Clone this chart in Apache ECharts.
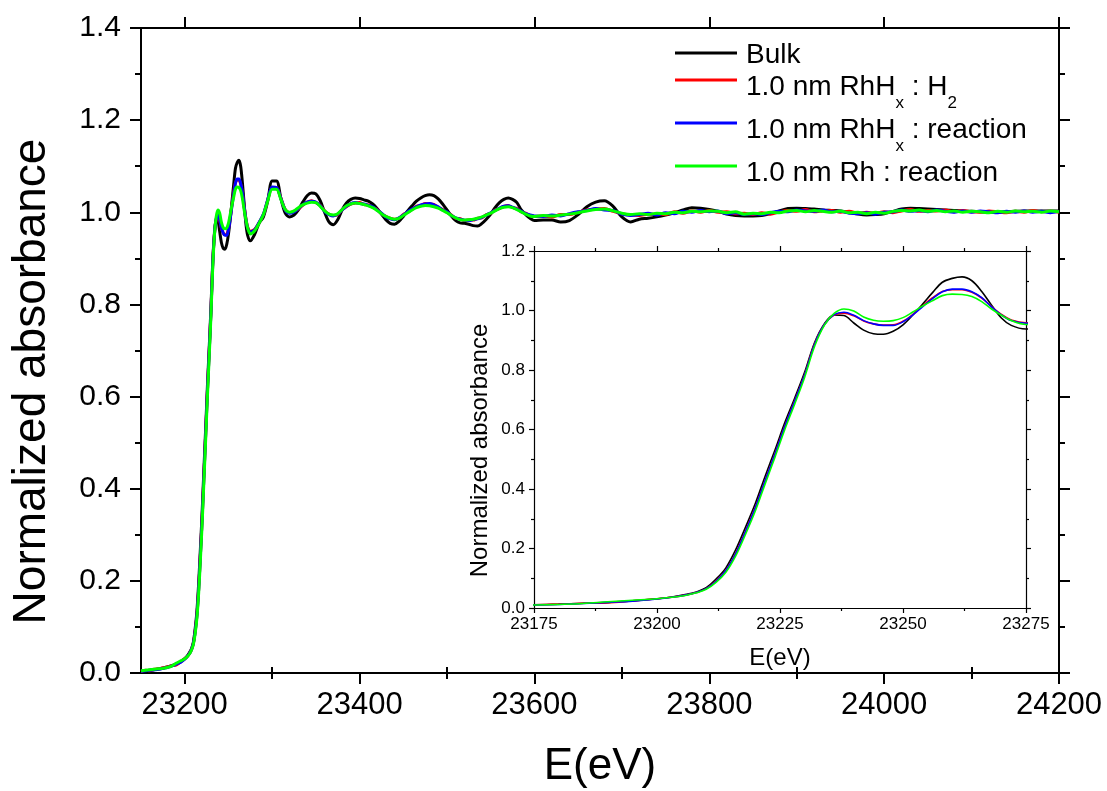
<!DOCTYPE html>
<html>
<head>
<meta charset="utf-8">
<script src="https://cdn.jsdelivr.net/npm/echarts@6/dist/echarts.min.js"></script>
<style>
  html, body { margin: 0; padding: 0; background: #ffffff; }
  #chart { width: 1107px; height: 791px; }
</style>
</head>
<body>
<div id="chart"></div>
<script>
// Photon energy grid (eV), shared by all spectra
const energy = [
  23150,23155,23160,23165,23170,23175,23180,23185,23190,23195,
  23200,23203,23206,23208,23210,
  23212,23214,23216,23218,23220,23222,23224,23226,23228,23230,
  23232,23234,23236,23238,23240,23242,23244,23246,23248,23250,
  23252,23254,23256,23258,23260,23262,23264,23266,23268,23270,
  23272,23275,
  23280,23285,23290,23295,23300,23305,23310,23315,23320,23325,
  23330,23335,23340,23345,23350,23355,23360,23365,23370,23375,
  23380,23385,23390,23395,23400,23405,23410,23415,23420,23425,
  23430,23435,23440,23445,23450,23455,23460,23465,23470,23475,
  23480,23485,23490,23495,23500,23505,23510,23515,23520,23525,
  23530,23535,23540,23545,23550,23555,23560,23565,23570,23575,
  23580,23585,23590,23595,23600,
  23610,23620,23630,23640,23650,23660,23670,23680,23690,23700,
  23710,23720,23730,23740,23750,23760,23770,23780,23790,23800,
  23810,23820,23830,23840,23850,23860,23870,23880,23890,23900,
  23910,23920,23930,23940,23950,23960,23970,23980,23990,24000,
  24010,24020,24030,24040,24050,24060,24070,24080,24090,24100,
  24110,24120,24130,24140,24150,24160,24170,24180,24190,24200
];

// Normalized absorbance, Rh bulk reference
const bulk = [
  .004,.005,.006,.007,.009,.011,.013,.016,.019,.024,
  .031,.037,.046,.054,.068,
  .097,.135,.196,.272,.352,.444,.532,.624,.706,.792,
  .891,.955,.985,.983,.958,.934,.922,.920,.930,.952,
  .985,1.022,1.060,1.095,1.108,1.113,1.100,1.064,1.018,.975,
  .950,.938,
  .952,.976,.990,1.025,1.068,1.068,1.030,.998,.990,.994,
  1.005,1.022,1.036,1.042,1.040,1.025,1.000,.979,.973,.984,
  1.005,1.020,1.028,1.031,1.030,1.027,1.024,1.018,1.008,.996,
  .984,.976,.974,.980,.991,1.003,1.014,1.024,1.031,1.036,
  1.038,1.036,1.029,1.018,1.005,.992,.982,.977,.976,.974,
  .971,.970,.976,.985,.996,1.010,1.021,1.028,1.031,1.028,
  1.021,1.005,.995,.987,.982,
  .983,.983,.979,.982,.995,1.012,1.022,1.025,1.013,.990,
  .979,.985,.987,.990,.994,.999,1.005,1.010,1.009,1.006,
  1.002,.996,.993,.992,.992,.993,.997,1.003,1.008,1.009,
  1.008,1.007,1.005,1.004,1.003,1.000,.996,.994,.995,.997,
  1.002,1.007,1.009,1.008,1.007,1.006,1.005,1.004,1.003,1.002,
  1.001,1.000,1.000,1.001,1.002,1.003,1.003,1.003,1.003,1.003
];

// 1.0 nm RhHx under H2
const rhHxH2 = [
  .003,.006,.005,.008,.009,.011,.013,.016,.017,.024,
  .031,.036,.044,.052,.065,
  .091,.127,.184,.259,.339,.430,.520,.613,.697,.784,
  .886,.952,.985,.991,.982,.965,.955,.951,.952,.964,
  .987,1.016,1.043,1.064,1.070,1.070,1.061,1.042,1.013,.987,
  .968,.959,
  .963,.977,.995,1.027,1.054,1.053,1.031,1.006,.999,1.002,
  1.007,1.015,1.022,1.025,1.021,1.015,1.003,.996,.993,.995,
  1.006,1.012,1.018,1.020,1.021,1.017,1.016,1.011,1.006,.997,
  .991,.987,.985,.987,.995,1.000,1.006,1.013,1.015,1.019,
  1.018,1.017,1.011,1.006,1.000,.994,.987,.986,.982,.984,
  .983,.987,.988,.995,.998,1.005,1.008,1.013,1.015,1.010,
  1.008,1.001,.998,.993,.991,
  .992,.990,.995,.995,1.000,1.005,1.007,1.008,1.002,.997,
  .994,.993,.996,.996,.995,1.001,.998,1.003,1.000,1.004,
  1.000,1.001,.997,.998,.995,.999,.996,1.001,1.004,1.002,
  1.006,1.001,1.003,1.004,1.000,1.002,.998,1.000,.998,1.001,
  .999,1.003,1.006,1.002,1.004,1.003,1.005,1.001,1.004,1.001,
  1.000,1.003,1.001,.999,1.002,1.000,1.004,1.001,1.002,1.000
];

// 1.0 nm RhHx under reaction conditions
const rhHxReaction = [
  .004,.005,.006,.007,.008,.010,.012,.015,.019,.023,
  .030,.036,.044,.052,.065,
  .090,.126,.183,.258,.338,.429,.519,.612,.696,.783,
  .885,.952,.986,.994,.984,.966,.955,.950,.950,.962,
  .985,1.013,1.040,1.063,1.072,1.072,1.063,1.043,1.012,.985,
  .966,.957,
  .962,.978,.996,1.028,1.055,1.054,1.030,1.005,.998,1.001,
  1.008,1.016,1.022,1.024,1.022,1.014,1.002,.995,.992,.996,
  1.005,1.013,1.019,1.021,1.019,1.018,1.015,1.012,1.005,.998,
  .990,.986,.984,.988,.994,1.001,1.007,1.012,1.016,1.018,
  1.019,1.016,1.012,1.005,1.001,.993,.988,.985,.983,.982,
  .984,.986,.989,.994,.999,1.004,1.009,1.013,1.014,1.011,
  1.007,1.002,.997,.994,.992,
  .991,.994,.992,.997,1.001,1.004,1.008,1.005,1.004,.996,
  .993,.995,.998,.994,.999,.997,1.002,1.000,1.004,1.001,
  1.003,.997,.999,.995,.997,.995,.999,1.002,1.001,1.005,
  1.003,1.002,1.005,1.001,1.002,.998,.997,.999,.996,1.000,
  1.001,1.005,1.002,1.004,1.001,1.005,1.002,1.000,1.003,1.000,
  1.003,1.001,.999,1.002,1.000,1.003,1.000,1.002,.999,1.002
];

// 1.0 nm Rh under reaction conditions
const rhReaction = [
  .005,.006,.007,.008,.009,.010,.012,.015,.021,.026,
  .031,.036,.043,.051,.063,
  .086,.120,.175,.248,.327,.418,.508,.601,.686,.775,
  .878,.950,.990,1.005,.998,.978,.967,.964,.966,.976,
  .995,1.015,1.033,1.050,1.055,1.054,1.047,1.030,1.005,.984,
  .966,.953,
  .960,.976,.995,1.025,1.050,1.050,1.028,1.006,1.000,1.003,
  1.010,1.016,1.020,1.022,1.021,1.013,1.003,.996,.994,.997,
  1.006,1.014,1.018,1.020,1.019,1.017,1.014,1.010,1.004,.997,
  .991,.987,.985,.987,.993,.999,1.005,1.010,1.013,1.015,
  1.014,1.012,1.009,1.004,.999,.993,.988,.984,.983,.984,
  .985,.987,.990,.994,.998,1.003,1.008,1.011,1.012,1.010,
  1.006,1.001,.996,.992,.991,
  .993,.992,.994,.996,.999,1.003,1.006,1.007,1.003,.998,
  .995,.997,.995,.998,.997,1.000,.999,1.002,1.001,1.003,
  1.002,.999,1.001,.996,.998,.997,1.000,.999,1.003,1.004,
  1.001,1.004,1.002,1.000,1.003,.999,1.000,.997,1.000,.998,
  1.002,1.004,1.003,1.005,1.002,1.004,1.001,1.003,1.000,1.002,
  1.001,.999,1.002,1.000,1.003,1.001,1.002,1.000,1.003,1.001
];

const seriesNames = ['Bulk', '1.0 nm RhHx : H2', '1.0 nm RhHx : reaction', '1.0 nm Rh : reaction'];
const seriesValues = [bulk, rhHxH2, rhHxReaction, rhReaction];
const seriesColors = ['#000000', '#ff0000', '#0000ff', '#00ff00'];

// Legend text with subscripts (rich-text markup)
const legendLabels = {
  'Bulk': '{b|Bulk}',
  '1.0 nm RhHx : H2': '{n|1.0 nm RhH}{s|x}{n| : H}{s|2}',
  '1.0 nm RhHx : reaction': '{n|1.0 nm RhH}{s|x}{n| : reaction}',
  '1.0 nm Rh : reaction': '{c|1.0 nm Rh : reaction}'
};

// Axis ticks
const mainXMajor = [23200, 23400, 23600, 23800, 24000, 24200];
const mainXMinor = [23300, 23500, 23700, 23900, 24100];
const mainXRange = [23150, 24200];
const mainYRange = [0, 1.4];
const insetXRange = [23175, 23275];
const insetYRange = [0, 1.2];

const FONT = '"Liberation Sans", Arial, Helvetica, sans-serif';
const BLACK = '#000000';

function pairs(values) {
  return energy.map((e, i) => [e, values[i]]);
}

function lineOf(w) { return { show: true, onZero: false, lineStyle: { color: BLACK, width: w } }; }
const plain = v => String(v);

// ---- main panel axes ----
function mainX(position, ticks, len, withLabel) {
  return {
    gridIndex: 0, type: 'value', position: position,
    min: mainXRange[0], max: mainXRange[1], offset: 0,
    axisLine: withLabel === null ? { show: false } : lineOf(2),
    axisTick: { show: true, inside: false, length: len, customValues: ticks, lineStyle: { color: BLACK, width: 2 } },
    axisLabel: withLabel ? { show: true, customValues: ticks, fontSize: 31, color: BLACK, fontFamily: FONT, margin: 17,
      formatter: plain } : { show: false },
    splitLine: { show: false },
    name: withLabel ? 'E(eV)' : '',
    nameLocation: 'middle', nameGap: 72,
    nameTextStyle: { fontSize: 44, color: BLACK, fontFamily: FONT }
  };
}
function mainY(position, withLabel) {
  return {
    gridIndex: 0, type: 'value', position: position,
    min: mainYRange[0], max: mainYRange[1], interval: 0.2, offset: 0,
    axisLine: lineOf(2),
    axisTick: { show: true, inside: false, length: 11, lineStyle: { color: BLACK, width: 2 } },
    minorTick: { show: true, splitNumber: 2, length: 6, lineStyle: { color: BLACK, width: 2 } },
    axisLabel: withLabel ? { show: true, fontSize: 30, color: BLACK, fontFamily: FONT, margin: 20,
      formatter: v => v.toFixed(1) } : { show: false },
    splitLine: { show: false }, minorSplitLine: { show: false },
    name: withLabel ? 'Normalized absorbance' : '',
    nameLocation: 'middle', nameGap: 86,
    nameTextStyle: { fontSize: 46, color: BLACK, fontFamily: FONT, padding: [0, 62, 0, 0] }
  };
}

// ---- inset axes ----
function insetX(position, withLabel) {
  return {
    gridIndex: 1, type: 'value', position: position,
    min: insetXRange[0], max: insetXRange[1], interval: 25, offset: 0,
    axisLine: lineOf(1.2),
    axisTick: { show: true, inside: false, length: 5, lineStyle: { color: BLACK, width: 1.2 } },
    minorTick: { show: true, splitNumber: 2, length: 3, lineStyle: { color: BLACK, width: 1.2 } },
    axisLabel: withLabel ? { show: true, fontSize: 17, color: BLACK, fontFamily: FONT, margin: 8,
      showMinLabel: true, showMaxLabel: true, formatter: plain } : { show: false },
    splitLine: { show: false }, minorSplitLine: { show: false },
    name: withLabel ? 'E(eV)' : '',
    nameLocation: 'middle', nameGap: 38,
    nameTextStyle: { fontSize: 24, color: BLACK, fontFamily: FONT }
  };
}
function insetY(position, withLabel) {
  return {
    gridIndex: 1, type: 'value', position: position,
    min: insetYRange[0], max: insetYRange[1], interval: 0.2, offset: 0,
    axisLine: lineOf(1.2),
    axisTick: { show: true, inside: false, length: 5, lineStyle: { color: BLACK, width: 1.2 } },
    minorTick: { show: true, splitNumber: 2, length: 3, lineStyle: { color: BLACK, width: 1.2 } },
    axisLabel: withLabel ? { show: true, fontSize: 17, color: BLACK, fontFamily: FONT, margin: 9,
      formatter: v => v.toFixed(1) } : { show: false },
    splitLine: { show: false }, minorSplitLine: { show: false },
    name: withLabel ? 'Normalized absorbance' : '',
    nameLocation: 'middle', nameGap: 42,
    nameTextStyle: { fontSize: 24, color: BLACK, fontFamily: FONT, padding: [0, 42, 0, 0] }
  };
}

const series = [];
seriesNames.forEach((name, k) => {
  series.push({
    name: name, type: 'line', xAxisIndex: 0, yAxisIndex: 0,
    data: pairs(seriesValues[k]), showSymbol: false, symbol: 'none', smooth: 0.3,
    color: seriesColors[k], lineStyle: { color: seriesColors[k], width: 3 },
    clip: true, z: 2 + k
  });
});
seriesNames.forEach((name, k) => {
  series.push({
    name: name, type: 'line', xAxisIndex: 4, yAxisIndex: 2,
    data: pairs(seriesValues[k]), showSymbol: false, symbol: 'none', smooth: 0.35,
    color: seriesColors[k], lineStyle: { color: seriesColors[k], width: 1.6 },
    clip: true, z: 10 + k
  });
});

const chart = echarts.init(document.getElementById('chart'), null, { renderer: 'canvas' });
chart.setOption({
  animation: false,
  backgroundColor: '#ffffff',
  textStyle: { fontFamily: FONT },
  grid: [
    { left: 141, top: 28, right: 48, bottom: 118, containLabel: false, outerBoundsMode: 'none' },
    { left: 534, top: 251, width: 492, height: 357, containLabel: false, outerBoundsMode: 'none',
      show: true, backgroundColor: '#ffffff', borderWidth: 0 }
  ],
  xAxis: [
    mainX('bottom', mainXMajor, 11, true),
    mainX('bottom', mainXMinor, 6, null),
    mainX('top', mainXMajor, 11, false),
    mainX('top', mainXMinor, 6, null),
    insetX('bottom', true),
    insetX('top', false)
  ],
  yAxis: [
    mainY('left', true),
    mainY('right', false),
    insetY('left', true),
    insetY('right', false)
  ],
  legend: {
    show: true, data: seriesNames, orient: 'vertical',
    left: 675, top: 41, itemWidth: 62, itemHeight: 3, itemGap: -4,
    icon: 'rect', selectedMode: false, padding: 0,
    formatter: name => legendLabels[name],
    textStyle: {
      color: BLACK, fontFamily: FONT, padding: [0, 0, 0, 4],
      rich: {
        b: { fontSize: 28, lineHeight: 24, color: BLACK, fontFamily: FONT, verticalAlign: 'top' },
        c: { fontSize: 28, lineHeight: 30, color: BLACK, fontFamily: FONT, verticalAlign: 'top', padding: [8.5, 0, 8.5, 0] },
        n: { fontSize: 28, lineHeight: 30, color: BLACK, fontFamily: FONT, verticalAlign: 'top', padding: [8.5, 0, 0, 0] },
        s: { fontSize: 17, lineHeight: 17, color: BLACK, fontFamily: FONT, verticalAlign: 'top', padding: [30, 0, 0, 0] }
      }
    }
  },
  series: series
});
</script>
</body>
</html>
